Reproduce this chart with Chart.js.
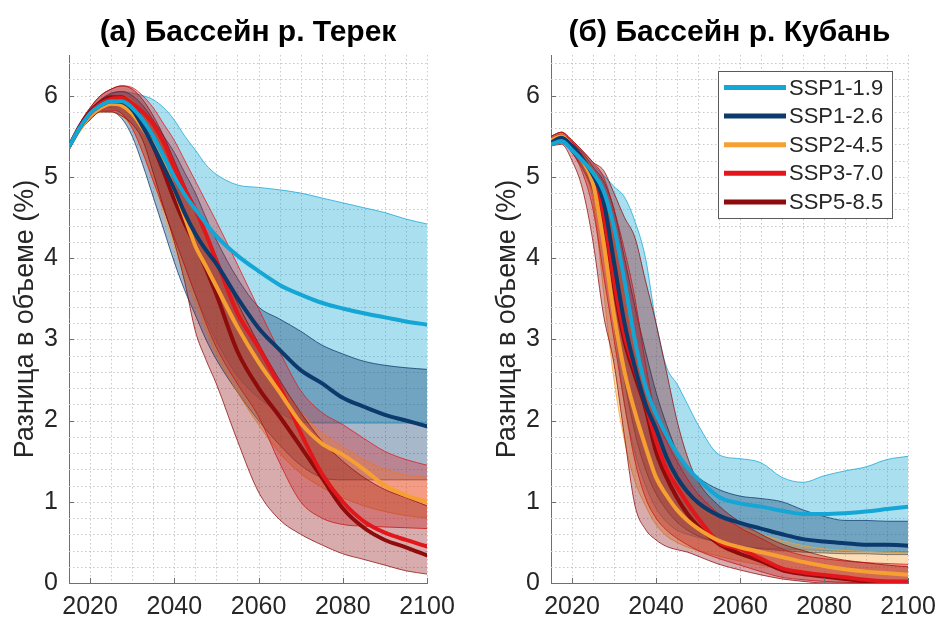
<!DOCTYPE html>
<html>
<head>
<meta charset="utf-8">
<script src="https://cdn.jsdelivr.net/npm/chart.js@4.4.1/dist/chart.umd.min.js"></script>
<style>
  html, body { margin: 0; padding: 0; background: #ffffff; }
  .panel { position: absolute; top: 0; width: 468px; height: 624px; }
</style>
</head>
<body>
<div class="panel" style="left:0"><canvas id="terek" width="468" height="624"></canvas></div>
<div class="panel" style="left:468px"><canvas id="kuban" width="468" height="624"></canvas></div>
<script>
// Time axis shared by every series (years)
const years = [2015, 2017.5, 2020, 2022.5, 2025, 2027.5, 2030, 2032.5, 2035, 2037.5, 2040, 2042.5,
               2045, 2047.5, 2050, 2055, 2060, 2065, 2070, 2075, 2080, 2085, 2090, 2095, 2100];

const scenarioNames = ['SSP1-1.9', 'SSP1-2.6', 'SSP2-4.5', 'SSP3-7.0', 'SSP5-8.5'];
const scenarioColors = ['#14a6d4', '#0c3a6c', '#f7a032', '#e3161c', '#8e0c0c'];

const xTickValues = [2020, 2040, 2060, 2080, 2100];
const yTickValues = [0, 1, 2, 3, 4, 5, 6];

const panelTitles = ['(а) Бассейн р. Терек', '(б) Бассейн р. Кубань'];
const yAxisTitle = 'Разница в объеме (%)';

// --- Терек: ensemble mean, upper and lower envelope (%) ---
const terekMean19  = [5.37, 5.60, 5.78, 5.88, 5.93, 5.93, 5.85, 5.70, 5.50, 5.25, 5.00, 4.78, 4.60, 4.43, 4.27, 4.03, 3.84, 3.67, 3.55, 3.45, 3.38, 3.32, 3.27, 3.22, 3.18];
const terekUpper19 = [5.37, 5.62, 5.82, 5.95, 6.02, 6.05, 6.03, 6.00, 5.95, 5.85, 5.70, 5.50, 5.33, 5.15, 5.03, 4.90, 4.87, 4.84, 4.80, 4.74, 4.68, 4.62, 4.56, 4.48, 4.42];
const terekLower19 = [5.37, 5.58, 5.75, 5.83, 5.85, 5.78, 5.60, 5.30, 4.95, 4.60, 4.25, 3.90, 3.55, 3.25, 2.98, 2.55, 2.28, 2.10, 1.98, 1.97, 1.97, 1.97, 1.97, 1.97, 1.97];

const terekMean26  = [5.37, 5.60, 5.78, 5.88, 5.93, 5.92, 5.83, 5.62, 5.38, 5.12, 4.85, 4.55, 4.30, 4.10, 3.93, 3.51, 3.14, 2.87, 2.62, 2.46, 2.28, 2.17, 2.07, 2.00, 1.93];
const terekUpper26 = [5.37, 5.62, 5.82, 5.95, 6.03, 6.05, 6.00, 5.88, 5.70, 5.50, 5.30, 5.05, 4.80, 4.50, 4.22, 3.75, 3.40, 3.25, 3.10, 2.93, 2.82, 2.73, 2.68, 2.65, 2.63];
const terekLower26 = [5.37, 5.58, 5.72, 5.80, 5.80, 5.72, 5.50, 5.15, 4.75, 4.35, 3.95, 3.60, 3.30, 3.00, 2.75, 2.35, 2.00, 1.70, 1.45, 1.30, 1.27, 1.27, 1.27, 1.27, 1.27];

const terekMean45  = [5.37, 5.58, 5.75, 5.85, 5.90, 5.88, 5.78, 5.60, 5.40, 5.15, 4.85, 4.50, 4.15, 3.90, 3.65, 3.15, 2.72, 2.35, 1.97, 1.72, 1.58, 1.40, 1.20, 1.08, 1.00];
const terekUpper45 = [5.37, 5.62, 5.80, 5.93, 5.98, 6.00, 5.95, 5.80, 5.58, 5.35, 5.08, 4.80, 4.50, 4.20, 3.90, 3.40, 2.90, 2.45, 2.10, 1.85, 1.68, 1.52, 1.40, 1.33, 1.30];
const terekLower45 = [5.37, 5.56, 5.72, 5.80, 5.80, 5.75, 5.60, 5.30, 4.95, 4.55, 4.15, 3.78, 3.45, 3.12, 2.82, 2.35, 1.95, 1.60, 1.35, 1.18, 1.05, 0.95, 0.88, 0.83, 0.80];

const terekMean70  = [5.37, 5.60, 5.78, 5.90, 5.96, 5.97, 5.90, 5.80, 5.65, 5.42, 5.12, 4.85, 4.60, 4.30, 3.97, 3.32, 2.90, 2.42, 1.85, 1.35, 1.00, 0.76, 0.62, 0.53, 0.45];
const terekUpper70 = [5.37, 5.65, 5.85, 6.00, 6.08, 6.12, 6.10, 6.00, 5.85, 5.65, 5.45, 5.20, 4.95, 4.70, 4.45, 3.92, 3.38, 2.85, 2.37, 2.10, 1.95, 1.78, 1.62, 1.52, 1.45];
const terekLower70 = [5.37, 5.57, 5.72, 5.82, 5.82, 5.78, 5.60, 5.30, 4.95, 4.60, 4.25, 3.90, 3.55, 3.20, 2.90, 2.45, 2.05, 1.48, 1.00, 0.80, 0.72, 0.70, 0.69, 0.68, 0.67];

const terekMean85  = [5.37, 5.62, 5.80, 5.92, 5.98, 5.98, 5.88, 5.68, 5.38, 5.06, 4.72, 4.42, 4.16, 3.87, 3.55, 2.85, 2.40, 2.05, 1.68, 1.30, 0.92, 0.68, 0.53, 0.44, 0.34];
const terekUpper85 = [5.37, 5.65, 5.85, 6.00, 6.08, 6.12, 6.08, 5.95, 5.75, 5.50, 5.20, 4.90, 4.60, 4.30, 4.00, 3.45, 2.95, 2.50, 2.10, 1.75, 1.50, 1.30, 1.15, 1.05, 0.95];
const terekLower85 = [5.37, 5.56, 5.70, 5.80, 5.80, 5.75, 5.65, 5.45, 5.05, 4.62, 4.20, 3.70, 3.10, 2.75, 2.45, 1.75, 1.12, 0.78, 0.60, 0.47, 0.36, 0.29, 0.22, 0.15, 0.11];

// --- Кубань: ensemble mean, upper and lower envelope (%) ---
const kubanMean19  = [5.40, 5.44, 5.33, 5.20, 5.05, 4.83, 4.38, 3.72, 2.98, 2.42, 2.08, 1.82, 1.60, 1.42, 1.28, 1.06, 0.98, 0.94, 0.89, 0.85, 0.85, 0.86, 0.88, 0.91, 0.94];
const kubanUpper19 = [5.45, 5.50, 5.40, 5.28, 5.15, 5.02, 4.88, 4.75, 4.45, 4.00, 3.20, 2.66, 2.45, 2.20, 1.95, 1.58, 1.53, 1.48, 1.30, 1.24, 1.32, 1.38, 1.43, 1.52, 1.56];
const kubanLower19 = [5.38, 5.42, 5.30, 5.10, 4.80, 4.20, 3.20, 2.20, 1.60, 1.20, 0.92, 0.75, 0.65, 0.60, 0.56, 0.50, 0.46, 0.43, 0.42, 0.41, 0.40, 0.39, 0.39, 0.38, 0.38];

const kubanMean26  = [5.42, 5.48, 5.38, 5.22, 5.02, 4.70, 3.95, 3.20, 2.65, 2.20, 1.90, 1.55, 1.30, 1.12, 0.99, 0.83, 0.74, 0.67, 0.60, 0.54, 0.51, 0.49, 0.47, 0.47, 0.46];
const kubanUpper26 = [5.48, 5.52, 5.42, 5.30, 5.12, 4.95, 4.60, 4.00, 3.40, 2.85, 2.35, 1.95, 1.62, 1.42, 1.30, 1.15, 1.07, 1.04, 1.00, 0.90, 0.82, 0.77, 0.77, 0.76, 0.76];
const kubanLower26 = [5.38, 5.42, 5.30, 5.10, 4.82, 4.30, 3.40, 2.50, 1.85, 1.40, 1.10, 0.90, 0.75, 0.65, 0.58, 0.50, 0.45, 0.42, 0.40, 0.38, 0.37, 0.36, 0.36, 0.35, 0.35];

const kubanMean45  = [5.45, 5.50, 5.38, 5.20, 4.92, 4.20, 3.30, 2.60, 2.10, 1.68, 1.30, 1.08, 0.90, 0.77, 0.67, 0.52, 0.44, 0.38, 0.32, 0.26, 0.21, 0.17, 0.14, 0.12, 0.10];
const kubanUpper45 = [5.50, 5.55, 5.43, 5.28, 5.10, 4.80, 4.20, 3.50, 2.85, 2.35, 1.90, 1.55, 1.30, 1.10, 0.95, 0.78, 0.68, 0.60, 0.52, 0.46, 0.42, 0.40, 0.39, 0.38, 0.37];
const kubanLower45 = [5.40, 5.45, 5.32, 5.10, 4.70, 3.60, 2.50, 1.75, 1.25, 0.95, 0.72, 0.58, 0.50, 0.44, 0.40, 0.33, 0.27, 0.22, 0.17, 0.13, 0.10, 0.07, 0.05, 0.04, 0.03];

const kubanMean70  = [5.45, 5.50, 5.40, 5.22, 5.00, 4.55, 3.72, 3.05, 2.62, 2.20, 1.75, 1.40, 1.18, 0.98, 0.80, 0.50, 0.42, 0.30, 0.18, 0.13, 0.10, 0.07, 0.04, 0.02, 0.02];
const kubanUpper70 = [5.50, 5.55, 5.45, 5.32, 5.18, 5.00, 4.60, 4.10, 3.50, 2.70, 2.05, 1.75, 1.50, 1.28, 1.10, 0.85, 0.68, 0.55, 0.42, 0.34, 0.30, 0.27, 0.25, 0.24, 0.23];
const kubanLower70 = [5.40, 5.43, 5.30, 5.05, 4.60, 3.80, 3.00, 2.20, 1.50, 1.05, 0.80, 0.65, 0.55, 0.47, 0.40, 0.30, 0.22, 0.14, 0.07, 0.04, 0.02, 0.01, 0.00, 0.00, 0.00];

const kubanMean85  = [5.45, 5.50, 5.40, 5.22, 4.98, 4.50, 3.65, 2.98, 2.55, 2.15, 1.62, 1.30, 1.05, 0.85, 0.70, 0.48, 0.36, 0.27, 0.16, 0.11, 0.08, 0.05, 0.02, 0.01, 0.00];
const kubanUpper85 = [5.50, 5.55, 5.45, 5.32, 5.18, 5.08, 4.80, 4.50, 4.25, 3.72, 3.20, 2.60, 2.00, 1.55, 1.25, 0.95, 0.75, 0.60, 0.48, 0.40, 0.33, 0.28, 0.25, 0.22, 0.20];
const kubanLower85 = [5.38, 5.40, 5.20, 4.85, 4.20, 3.30, 2.70, 1.80, 0.95, 0.66, 0.53, 0.45, 0.41, 0.38, 0.33, 0.23, 0.16, 0.10, 0.05, 0.02, 0.00, 0.00, 0.00, 0.00, 0.00];

// ---------------------------------------------------------------------------
const FONT = "'Liberation Sans', Arial, Helvetica, sans-serif";
const TEXT_COLOR = '#262626';
const AXIS_COLOR = '#6f6f6f';

function rgba(hex, a) {
  const n = parseInt(hex.slice(1), 16);
  return `rgba(${(n >> 16) & 255}, ${(n >> 8) & 255}, ${n & 255}, ${a})`;
}
function toPoints(values) {
  return values.map((v, i) => ({ x: years[i], y: v }));
}

const fillAlpha = [0.36, 0.36, 0.36, 0.32, 0.34];

function buildDatasets(means, uppers, lowers) {
  const sets = [];
  scenarioNames.forEach((name, i) => {
    const common = {
      label: name,
      pointRadius: 0,
      borderWidth: 1,
      borderColor: rgba(scenarioColors[i], 0.75),
      cubicInterpolationMode: 'monotone',
      order: 20 - i
    };
    sets.push(Object.assign({}, common, {
      data: toPoints(uppers[i]),
      backgroundColor: rgba(scenarioColors[i], fillAlpha[i]),
      fill: '+1'
    }));
    sets.push(Object.assign({}, common, { data: toPoints(lowers[i]), fill: false }));
  });
  scenarioNames.forEach((name, i) => {
    sets.push({
      label: name,
      data: toPoints(means[i]),
      borderColor: scenarioColors[i],
      borderWidth: 4,
      pointRadius: 0,
      fill: false,
      cubicInterpolationMode: 'monotone',
      borderCapStyle: 'round',
      order: i
    });
  });
  return sets;
}

// Dotted minor grid and inward tick marks
const gridPlugin = {
  id: 'dottedGrid',
  beforeDatasetsDraw(chart) {
    const { ctx, chartArea: a, scales: { x, y } } = chart;
    ctx.save();
    ctx.strokeStyle = '#c9c9c9';
    ctx.lineWidth = 1;
    ctx.setLineDash([1.5, 2.5]);
    ctx.beginPath();
    for (let yr = 2020; yr <= 2100; yr += 5) {
      const px = Math.round(x.getPixelForValue(yr)) + 0.5;
      ctx.moveTo(px, a.top); ctx.lineTo(px, a.bottom);
    }
    for (let k = 1; k <= 32; k++) {
      const py = Math.round(y.getPixelForValue(k * 0.2)) + 0.5;
      ctx.moveTo(a.left, py); ctx.lineTo(a.right, py);
    }
    ctx.stroke();
    ctx.restore();
  },
  afterDatasetsDraw(chart) {
    const { ctx, chartArea: a, scales: { x, y } } = chart;
    ctx.save();
    ctx.strokeStyle = AXIS_COLOR;
    ctx.lineWidth = 1;
    ctx.beginPath();
    xTickValues.forEach(v => {
      const px = Math.round(x.getPixelForValue(v)) + 0.5;
      ctx.moveTo(px, a.bottom); ctx.lineTo(px, a.bottom - 5);
    });
    yTickValues.forEach(v => {
      const py = Math.round(y.getPixelForValue(v)) + 0.5;
      ctx.moveTo(a.left, py); ctx.lineTo(a.left + 5, py);
    });
    ctx.stroke();
    ctx.restore();
  }
};

// Boxed legend in the upper right corner of the plot area
const legendPlugin = {
  id: 'scenarioLegend',
  afterDraw(chart, args, opts) {
    if (!opts.show) return;
    const { ctx, chartArea: a } = chart;
    const w = 174, h = 147;
    const left = a.right - 16 - w, top = a.top + 16;
    ctx.save();
    ctx.fillStyle = '#ffffff';
    ctx.fillRect(left, top, w, h);
    ctx.strokeStyle = '#5a5a5a';
    ctx.lineWidth = 1;
    ctx.strokeRect(Math.round(left) + 0.5, Math.round(top) + 0.5, w, h);
    ctx.font = `22px ${FONT}`;
    ctx.textBaseline = 'middle';
    ctx.textAlign = 'left';
    scenarioNames.forEach((name, i) => {
      const rowY = top + 16.5 + i * 28.6;
      ctx.strokeStyle = scenarioColors[i];
      ctx.lineWidth = 5;
      ctx.beginPath();
      ctx.moveTo(left + 6, rowY); ctx.lineTo(left + 68, rowY);
      ctx.stroke();
      ctx.fillStyle = TEXT_COLOR;
      ctx.fillText(name, left + 71, rowY + 1);
    });
    ctx.restore();
  }
};

function makeChart(canvasId, title, means, uppers, lowers, padLeft, padRight, showLegend) {
  return new Chart(document.getElementById(canvasId), {
    type: 'line',
    data: { datasets: buildDatasets(means, uppers, lowers) },
    plugins: [gridPlugin, legendPlugin],
    options: {
      responsive: false,
      animation: false,
      devicePixelRatio: 1,
      layout: { padding: { left: padLeft, right: padRight, top: 0, bottom: 0 } },
      plugins: {
        legend: { display: false },
        tooltip: { enabled: false },
        title: {
          display: true,
          fullSize: false,
          text: title,
          color: '#000000',
          font: { family: FONT, size: 30, weight: 'bold', lineHeight: 1.2 },
          padding: { top: 14.5, bottom: 4.5 }
        },
        scenarioLegend: { show: showLegend }
      },
      scales: {
        x: {
          type: 'linear',
          min: 2015,
          max: 2100,
          grid: { display: false, drawTicks: false },
          border: { display: true, color: AXIS_COLOR, width: 1 },
          afterBuildTicks: s => { s.ticks = xTickValues.map(v => ({ value: v })); },
          afterFit: s => { s.height = 41; s.paddingLeft = 0; s.paddingRight = 0; },
          ticks: {
            color: TEXT_COLOR,
            font: { family: FONT, size: 25 },
            padding: 9,
            maxRotation: 0,
            autoSkip: false,
            callback: v => String(v)
          }
        },
        y: {
          type: 'linear',
          min: 0,
          max: 6.5,
          grid: { display: false, drawTicks: false },
          border: { display: true, color: AXIS_COLOR, width: 1 },
          afterBuildTicks: s => { s.ticks = yTickValues.map(v => ({ value: v })); },
          afterFit: s => { s.width = 69; s.paddingTop = 0; s.paddingBottom = 0; },
          ticks: {
            color: TEXT_COLOR,
            font: { family: FONT, size: 25 },
            padding: 11,
            autoSkip: false,
            callback: v => String(v)
          },
          title: {
            display: true,
            text: yAxisTitle,
            color: TEXT_COLOR,
            font: { family: FONT, size: 27, lineHeight: 1.2 },
            padding: { top: 9, bottom: 0 }
          }
        }
      }
    }
  });
}

makeChart('terek', panelTitles[0],
  [terekMean19, terekMean26, terekMean45, terekMean70, terekMean85],
  [terekUpper19, terekUpper26, terekUpper45, terekUpper70, terekUpper85],
  [terekLower19, terekLower26, terekLower45, terekLower70, terekLower85],
  0, 41, false);

makeChart('kuban', panelTitles[1],
  [kubanMean19, kubanMean26, kubanMean45, kubanMean70, kubanMean85],
  [kubanUpper19, kubanUpper26, kubanUpper45, kubanUpper70, kubanUpper85],
  [kubanLower19, kubanLower26, kubanLower45, kubanLower70, kubanLower85],
  14, 28, true);
</script>
</body>
</html>
